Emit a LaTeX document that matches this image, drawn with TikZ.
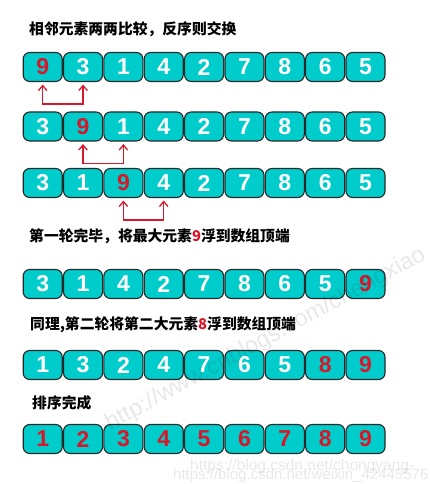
\documentclass[tikz,border=0pt]{standalone}
\usepackage{fontspec}
\setmainfont{Liberation Sans}
\newfontfamily\cjk{Noto Sans CJK SC}
\usetikzlibrary{arrows.meta}
\definecolor{tealbox}{RGB}{0,204,204}
\definecolor{redn}{RGB}{214,24,42}
\definecolor{edgec}{RGB}{40,40,40}
\tikzset{
  cell/.style={draw=edgec, line width=1.1pt, fill=tealbox, rounded corners=6.5pt,
    minimum width=39pt, minimum height=29pt, inner sep=0pt,
    font=\fontsize{23}{23}\selectfont\bfseries},
  title/.style={anchor=west, inner sep=0pt, font=\cjk\bfseries\fontsize{14.8}{15}\selectfont},
  swaparrow/.style={draw=redn, line width=1.3pt,
    {Straight Barb[length=5pt,width=8.5pt]}-{Straight Barb[length=5pt,width=8.5pt]}},
  wmark/.style={inner sep=0pt, text=black, opacity=0.09},
}
\newcommand\cellrow[3]{%
  \foreach [count=\i] \v/\c in {#3} {
    \node[cell, text=\c] (#1\i) at ({42.7+40.35*(\i-1)}, #2) {\v};
  }%
}
\begin{document}
\begin{tikzpicture}[x=1pt, y=-1pt]
  \fill[white] (0,0) rectangle (430,484);
  \useasboundingbox (0,0) rectangle (430,484);

  \node[title] (t1) at (29,29) {相邻元素两两比较，反序则交换};
  \cellrow{a}{67}{9/redn,3/white,1/white,4/white,2/white,7/white,8/white,6/white,5/white}
  \draw[swaparrow] ([yshift=-2.5pt]a1.south) -- ++(0,19.5) -| ([yshift=-2.5pt]a2.south);

  \cellrow{b}{126.5}{3/white,9/redn,1/white,4/white,2/white,7/white,8/white,6/white,5/white}
  \draw[swaparrow] ([yshift=-2.5pt]b2.south) -- ++(0,19.5) -| ([yshift=-2.5pt]b3.south);

  \cellrow{c}{183}{3/white,1/white,9/redn,4/white,2/white,7/white,8/white,6/white,5/white}
  \draw[swaparrow] ([yshift=-2.5pt]c3.south) -- ++(0,19.5) -| ([yshift=-2.5pt]c4.south);

  \node[title] (t2) at (29,236) {第一轮完毕，将最大元素{\color{redn}9}浮到数组顶端};
  \cellrow{d}{284}{3/white,1/white,4/white,2/white,7/white,8/white,6/white,5/white,9/redn}

  \node[title] (t3) at (30,325) {同理,第二轮将第二大元素{\color{redn}8}浮到数组顶端};
  \cellrow{e}{365}{1/white,3/white,2/white,4/white,7/white,6/white,5/white,8/redn,9/redn}

  \node[title] (t4) at (32,403) {排序完成};
  \cellrow{f}{439}{1/redn,2/redn,3/redn,4/redn,5/redn,6/redn,7/redn,8/redn,9/redn}

  \begin{scope}
    \clip (0,0) rectangle (430,484);
    \node[wmark, anchor=base west, rotate=28.5, font=\fontsize{23.5}{23.5}\selectfont] (w1) at (110,431) {http://www.cnblogs.com/chengxiao};
    \node[wmark, anchor=base west, font=\fontsize{15.5}{15.5}\selectfont] (w2) at (190,470) {https://blog.csdn.net/chongyang-};
    \node[wmark, anchor=base west, font=\fontsize{15}{15}\selectfont] (w3) at (173,479) {https://blog.csdn.net/weixin\_42445576};
  \end{scope}
\end{tikzpicture}
\end{document}
